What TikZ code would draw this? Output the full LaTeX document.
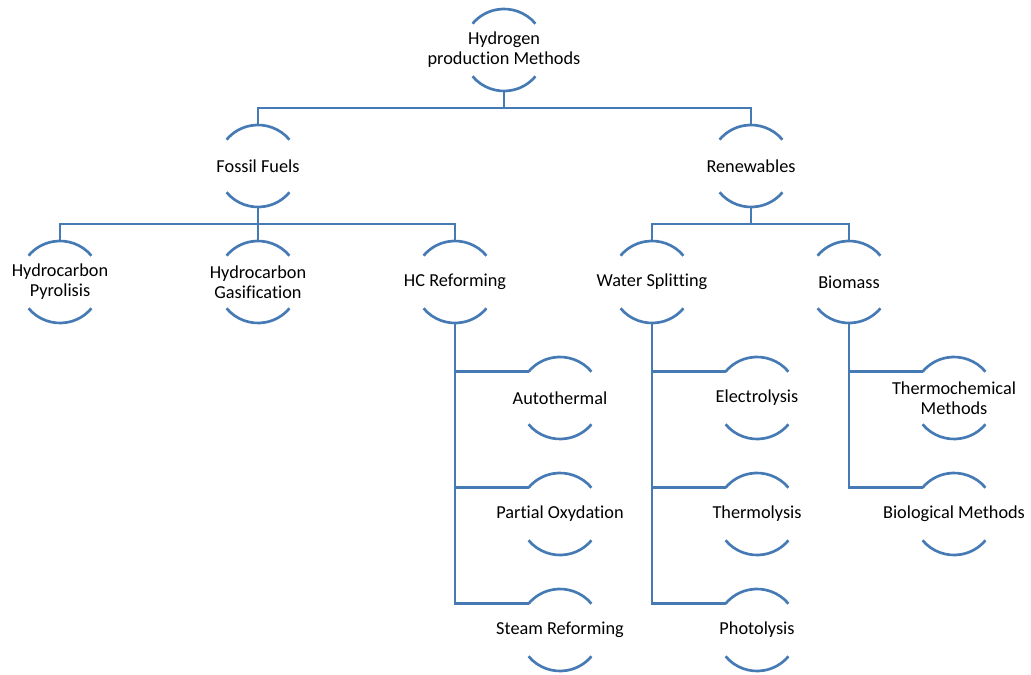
\documentclass[tikz,border=0pt]{standalone}
\usepackage{fontspec}
\setmainfont{Carlito}[Ligatures={NoCommon}]
\definecolor{linkblue}{RGB}{70,122,180}
\tikzset{
    hub/.style={circle, minimum size=2.05cm, inner sep=0pt, outer sep=0pt},
    txt/.style={align=center, font=\fontsize{13}{14.2}\selectfont, text=black},
    link/.style={linkblue, line width=1.9pt},
}
\begin{document}
\begin{tikzpicture}[x=0.025cm, y=-0.025cm]
    \useasboundingbox (0,0) rectangle (1031,675);

    % levels 0 and 1
    \node[hub, label={[txt]center:Hydrogen\\production Methods}] (root) at (504, 50) {};
    \node[hub, label={[txt]center:Fossil Fuels}] (fossil) at (258, 166) {};
    \node[hub, label={[txt]center:Renewables}] (renew) at (751, 166) {};

    % level 2
    \node[hub, label={[txt]center:Hydrocarbon\\Pyrolisis}] (pyro) at (60, 282) {};
    \node[hub, label={[txt]center:Hydrocarbon\\Gasification}] (gasif) at (258, 282) {};
    \node[hub, label={[txt]center:HC Reforming}] (hcref) at (455, 282) {};
    \node[hub, label={[txt]center:Water Splitting}] (water) at (652, 282) {};
    \node[hub, label={[txt]center:Biomass}] (biomass) at (849, 282) {};

    % level 3
    \node[hub, label={[txt]center:Autothermal}] (auto) at (560, 398) {};
    \node[hub, label={[txt]center:Partial Oxydation}] (partial) at (560, 514) {};
    \node[hub, label={[txt]center:Steam Reforming}] (steam) at (560, 630) {};
    \node[hub, label={[txt]center:Electrolysis}] (electro) at (757, 398) {};
    \node[hub, label={[txt]center:Thermolysis}] (thermo) at (757, 514) {};
    \node[hub, label={[txt]center:Photolysis}] (photo) at (757, 630) {};
    \node[hub, label={[txt]center:Thermochemical\\Methods}] (thermochem) at (954, 398) {};
    \node[hub, label={[txt]center:Biological Methods}] (bio) at (954, 514) {};

    % arcs
    \foreach \n in {root, fossil, renew, pyro, gasif, hcref, water, biomass,
                    auto, partial, steam, electro, thermo, photo, thermochem, bio} {
        \draw[link] (\n.40) arc[start angle=40, end angle=140, radius=1.025cm];
        \draw[link] (\n.-140) arc[start angle=-140, end angle=-40, radius=1.025cm];
    }

    % buses
    \coordinate (bus1) at (0, 108);
    \coordinate (bus2) at (0, 224);

    \draw[link] (root.south) -- (root.south |- bus1);
    \draw[link] (fossil.north) |- (bus1 -| renew.north) -- (renew.north);

    \draw[link] (fossil.south) -- (gasif.north);
    \draw[link] (pyro.north) |- (bus2 -| hcref.north) -- (hcref.north);
    \draw[link] (renew.south) -- (renew.south |- bus2);
    \draw[link] (water.north) |- (bus2 -| biomass.north) -- (biomass.north);

    \foreach \c in {auto, partial, steam}
        \draw[link] (hcref.south) |- (\c.140);
    \foreach \c in {electro, thermo, photo}
        \draw[link] (water.south) |- (\c.140);
    \foreach \c in {thermochem, bio}
        \draw[link] (biomass.south) |- (\c.140);

\end{tikzpicture}
\end{document}
